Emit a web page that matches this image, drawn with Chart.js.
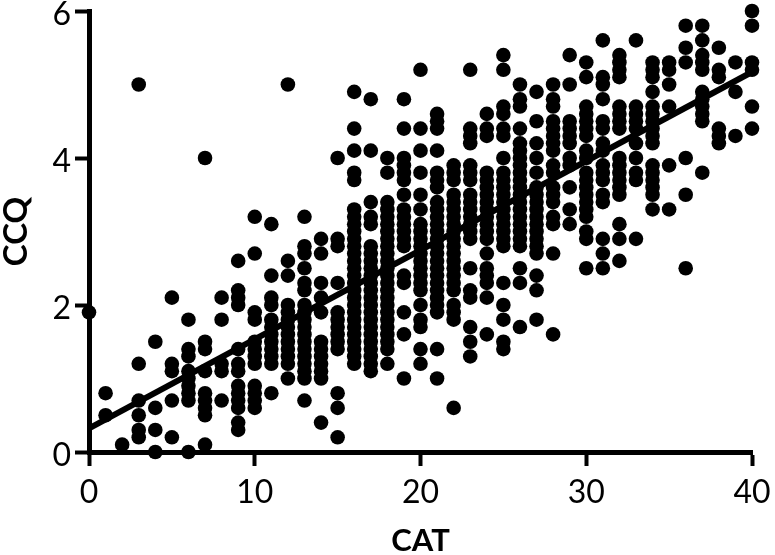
<!DOCTYPE html>
<html>
<head>
<meta charset="utf-8">
<style>html,body{margin:0;padding:0;background:#fff}#w{width:775px;height:555px;position:relative}canvas{display:block}</style>
<script src="https://cdn.jsdelivr.net/npm/chart.js@4"></script>
</head>
<body>
<div id="w"><canvas id="c" width="775" height="555"></canvas></div>
<script>
const catTicks = [0, 10, 20, 30, 40];
const ccqTicks = [0, 2, 4, 6];
const fitCat = [0, 40];
const fitCcq = [0.32, 5.17];
// CCQ values for each CAT score, index = CAT
const ccqByCat = [
/*0*/ [1.9],
/*1*/ [0.8,0.5],
/*2*/ [0.1],
/*3*/ [5.0,1.2,0.7,0.5,0.3,0.2],
/*4*/ [1.5,0.6,0.3,0],
/*5*/ [2.1,1.2,1.1,0.7,0.2],
/*6*/ [1.8,1.4,1.3,1.1,1.0,0.9,0.8,0.7,0],
/*7*/ [4.0,1.5,1.4,1.1,0.8,0.7,0.6,0.5,0.1],
/*8*/ [2.1,1.8,1.2,1.1,0.7],
/*9*/ [2.6,2.2,2.1,2.0,1.4,1.2,1.1,0.9,0.8,0.7,0.6,0.4,0.3],
/*10*/ [3.2,2.7,1.9,1.8,1.5,1.4,1.3,1.2,0.9,0.8,0.7,0.6],
/*11*/ [3.1,2.4,2.1,2.0,1.8,1.7,1.6,1.5,1.4,1.3,1.2,0.8],
/*12*/ [5.0,2.6,2.4,2.0,1.9,1.8,1.7,1.6,1.5,1.4,1.3,1.2,1.0],
/*13*/ [3.2,2.8,2.7,2.5,2.3,2.2,2.0,1.9,1.8,1.7,1.6,1.5,1.4,1.3,1.2,1.1,1.0,0.7],
/*14*/ [2.9,2.7,2.3,2.1,1.9,1.5,1.4,1.3,1.2,1.1,1.0,0.4],
/*15*/ [4.0,2.9,2.8,2.3,1.9,1.8,1.7,1.6,1.5,1.4,0.8,0.6,0.2],
/*16*/ [4.9,4.4,4.1,3.8,3.7,3.3,3.2,3.1,3.0,2.9,2.8,2.7,2.6,2.5,2.4,2.3,2.2,2.1,2.0,1.9,1.8,1.7,1.6,1.5,1.4,1.3,1.2],
/*17*/ [4.8,4.1,3.4,3.2,3.1,2.8,2.7,2.6,2.5,2.4,2.3,2.2,2.1,2.0,1.9,1.8,1.7,1.6,1.5,1.4,1.3,1.2,1.1],
/*18*/ [4.0,3.8,3.4,3.3,3.2,3.1,3.0,2.9,2.8,2.7,2.6,2.5,2.4,2.3,2.2,2.1,2.0,1.9,1.8,1.7,1.6,1.5,1.4,1.2],
/*19*/ [4.8,4.4,4.0,3.9,3.8,3.7,3.5,3.3,3.2,3.1,3.0,2.9,2.8,2.4,2.3,1.9,1.6,1.0],
/*20*/ [5.2,4.4,4.1,3.8,3.5,3.3,3.1,3.0,2.9,2.8,2.7,2.6,2.5,2.4,2.3,2.2,2.0,1.8,1.7,1.4,1.2],
/*21*/ [4.6,4.5,4.4,4.1,3.8,3.7,3.6,3.4,3.3,3.2,3.1,3.0,2.9,2.8,2.7,2.6,2.5,2.4,2.3,2.2,2.1,2.0,1.9,1.4,1.0],
/*22*/ [3.9,3.8,3.7,3.5,3.4,3.3,3.2,3.1,3.0,2.9,2.8,2.7,2.6,2.5,2.4,2.3,2.2,2.0,1.9,1.8,0.6],
/*23*/ [5.2,4.4,4.3,4.2,3.9,3.8,3.7,3.5,3.4,3.3,3.2,3.1,3.0,2.9,2.5,2.2,2.1,1.7,1.5,1.3],
/*24*/ [4.6,4.4,4.3,3.8,3.7,3.6,3.5,3.4,3.3,3.2,3.1,3.0,2.9,2.7,2.5,2.4,2.3,2.1,1.6],
/*25*/ [5.4,5.2,4.7,4.6,4.4,4.3,4.0,3.8,3.7,3.6,3.5,3.4,3.3,3.2,3.1,3.0,2.9,2.8,2.3,2.0,1.8,1.5,1.4],
/*26*/ [5.0,4.8,4.7,4.4,4.2,4.1,4.0,3.9,3.8,3.7,3.6,3.5,3.4,3.3,3.2,3.1,3.0,2.9,2.8,2.5,2.3,1.7],
/*27*/ [4.9,4.5,4.2,4.0,3.8,3.6,3.5,3.4,3.3,3.2,3.1,3.0,2.9,2.8,2.7,2.4,2.2,1.8],
/*28*/ [5.0,4.8,4.7,4.5,4.4,4.3,4.2,4.1,3.9,3.8,3.6,3.5,3.4,3.2,3.1,2.7,1.6],
/*29*/ [5.4,5.0,4.5,4.4,4.3,4.2,4.0,3.9,3.6,3.3,3.1],
/*30*/ [5.3,5.1,4.7,4.6,4.5,4.4,4.3,4.1,4.0,3.8,3.7,3.6,3.5,3.4,3.3,3.2,3.0,2.9,2.5],
/*31*/ [5.6,5.1,5.0,4.8,4.5,4.4,4.2,4.1,3.9,3.8,3.7,3.5,3.4,2.9,2.7,2.5],
/*32*/ [5.4,5.3,5.2,5.1,4.7,4.6,4.5,4.4,4.0,3.9,3.8,3.7,3.6,3.5,3.1,2.9,2.6],
/*33*/ [5.6,4.7,4.6,4.5,4.4,4.2,4.0,3.8,3.7,2.9],
/*34*/ [5.3,5.2,5.1,4.9,4.7,4.6,4.5,4.4,4.3,4.2,3.9,3.8,3.7,3.6,3.5,3.3],
/*35*/ [5.3,5.2,5.0,4.7,3.9,3.3],
/*36*/ [5.8,5.5,5.3,4.0,3.5,2.5],
/*37*/ [5.8,5.6,5.4,5.3,5.2,4.9,4.8,4.7,4.6,4.5,3.8],
/*38*/ [5.5,5.2,5.1,4.4,4.3,4.2],
/*39*/ [5.3,4.9,4.3],
/*40*/ [6.0,5.8,5.3,5.2,4.7,4.4]
];

const scatterPoints = [];
ccqByCat.forEach((ys, cat) => ys.forEach(v => scatterPoints.push({x: cat, y: v})));

new Chart(document.getElementById('c'), {
  type: 'scatter',
  data: {datasets: [
    {data: scatterPoints, pointRadius: 7.3, pointHoverRadius: 7.3, pointBackgroundColor: '#000', pointBorderWidth: 0, showLine: false, clip: false},
    {type: 'line', data: fitCat.map((c, i) => ({x: c, y: fitCcq[i]})), borderColor: '#000', borderWidth: 6, pointRadius: 0, clip: false, tension: 0}
  ]},
  options: {
    responsive: false, animation: false, devicePixelRatio: 1,
    layout: {padding: {left: 0, right: 23, top: 11, bottom: 0}},
    plugins: {legend: {display: false}, tooltip: {enabled: false}},
    scales: {
      x: {
        type: 'linear', min: 0, max: 40,
        afterBuildTicks: s => { s.ticks = catTicks.map(v => ({value: v})); },
        afterFit: s => { s.height = 103; s.paddingLeft = 0; s.paddingRight = 0; },
        border: {display: true, color: '#000', width: 5},
        grid: {display: true, drawOnChartArea: false, drawTicks: true, tickLength: 14, tickWidth: 4, tickColor: '#000'},
        ticks: {font: {family: 'Lato', size: 32}, color: '#000', padding: 7, maxRotation: 0, autoSkip: false},
        title: {display: true, text: 'CAT', font: {family: 'Lato', size: 31, weight: 'bold', lineHeight: 0.9}, color: '#000', padding: 0}
      },
      y: {
        type: 'linear', min: 0, max: 6,
        afterBuildTicks: s => { s.ticks = ccqTicks.map(v => ({value: v})); },
        afterFit: s => { s.width = 89; s.paddingTop = 0; s.paddingBottom = 0; },
        border: {display: true, color: '#000', width: 5},
        grid: {display: true, drawOnChartArea: false, drawTicks: true, tickLength: 14, tickWidth: 4, tickColor: '#000'},
        ticks: {font: {family: 'Lato', size: 32, lineHeight: 0.25}, color: '#000', padding: 4, autoSkip: false,
                callback: v => ['', String(v)]},
        title: {display: true, text: 'CCQ', font: {family: 'Lato', size: 33, weight: 'bold', lineHeight: 1}, color: '#000', padding: 0}
      }
    }
  }
});
</script>
</body>
</html>
